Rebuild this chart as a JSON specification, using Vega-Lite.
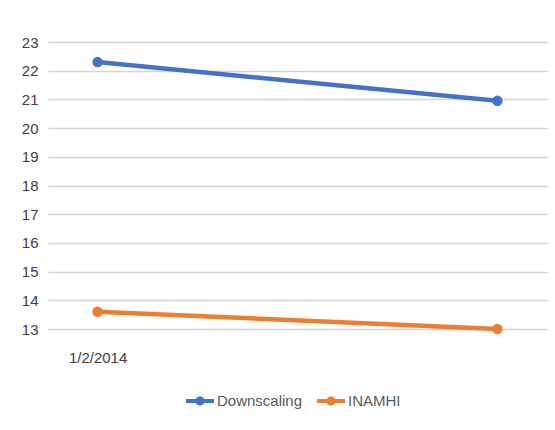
{
  "$schema": "https://vega.github.io/schema/vega-lite/v6.json",
  "width": 499,
  "height": 287,
  "autosize": {"type": "none"},
  "padding": {"left": 48, "top": 42, "right": 8, "bottom": 101},
  "background": "white",
  "config": {
    "view": {"stroke": null},
    "font": "Liberation Sans, sans-serif"
  },
  "data": {
    "values": [
      {"date": "1/2/2014", "series": "Downscaling", "value": 22.3},
      {"date": "1/3/2014", "series": "Downscaling", "value": 20.95},
      {"date": "1/2/2014", "series": "INAMHI", "value": 13.6},
      {"date": "1/3/2014", "series": "INAMHI", "value": 13.0}
    ]
  },
  "mark": {"type": "line", "strokeWidth": 4.5, "point": {"filled": true, "size": 110}},
  "encoding": {
    "x": {
      "field": "date",
      "type": "ordinal",
      "sort": null,
      "scale": {"type": "point", "padding": 0.124},
      "axis": {
        "title": null,
        "labelExpr": "datum.label == '1/2/2014' ? datum.label : ''",
        "labelAngle": 0,
        "domain": false,
        "ticks": false,
        "grid": false,
        "labelPadding": 21,
        "labelFontSize": 15,
        "labelColor": "#404040"
      }
    },
    "y": {
      "field": "value",
      "type": "quantitative",
      "scale": {"domain": [13, 23], "nice": false, "zero": false},
      "axis": {
        "title": null,
        "values": [13, 14, 15, 16, 17, 18, 19, 20, 21, 22, 23],
        "domain": false,
        "ticks": false,
        "gridColor": "#d4d4d4",
        "gridWidth": 1.5,
        "labelPadding": 10,
        "labelFontSize": 15,
        "labelColor": "#404040"
      }
    },
    "color": {
      "field": "series",
      "type": "nominal",
      "scale": {"domain": ["Downscaling", "INAMHI"], "range": ["#4472C4", "#ED7D31"]},
      "legend": {
        "title": null,
        "orient": "none",
        "direction": "horizontal",
        "legendX": 138,
        "legendY": 345,
        "symbolType": "M-1,-0.15L1,-0.15L1,0.15L-1,0.15Z M0.33,0 A0.33,0.33 0 1,1 -0.33,0 A0.33,0.33 0 1,1 0.33,0 Z",
        "symbolSize": 784,
        "symbolStrokeWidth": 0,
        "labelFontSize": 15,
        "labelColor": "#595959",
        "labelOffset": 3,
        "columnPadding": 14,
        "encode": {
          "symbols": {"update": {"fill": {"scale": "color", "field": "value"}, "strokeWidth": {"value": 0}, "opacity": {"value": 1}}}
        }
      }
    }
  }
}
